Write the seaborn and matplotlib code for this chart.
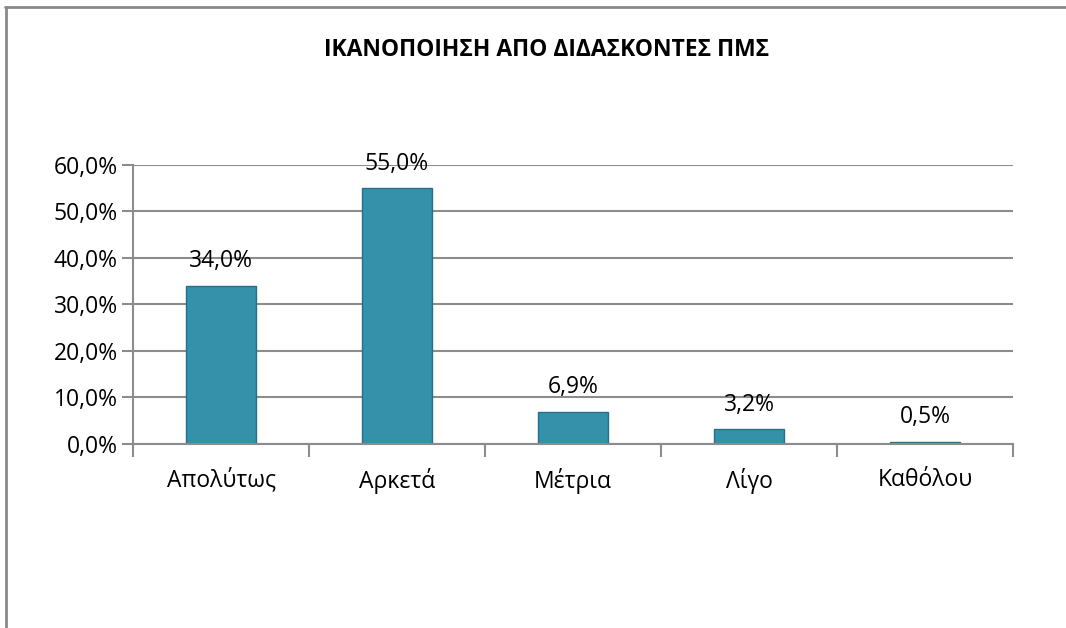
import matplotlib.pyplot as plt
import seaborn as sns
from matplotlib.lines import Line2D
from matplotlib.ticker import FixedLocator, FuncFormatter

# Satisfaction with PMS teaching staff (%)
categories = ["Απολύτως", "Αρκετά", "Μέτρια", "Λίγο", "Καθόλου"]
values = [34.0, 55.0, 6.9, 3.2, 0.5]
y_ticks = [0, 10, 20, 30, 40, 50, 60]
title = "ΙΚΑΝΟΠΟΙΗΣΗ ΑΠΟ ΔΙΔΑΣΚΟΝΤΕΣ ΠΜΣ"

GRID = "#8c8c8c"
BAR = "#3590aa"
FS = 16.5


def pct(v):
    return f"{v:.1f}%".replace(".", ",")


sns.set_theme(style="white")
plt.rcParams["font.family"] = ["Open Sans", "DejaVu Sans"]
plt.rcParams["text.color"] = "black"

fig = plt.figure(figsize=(10.66, 6.28), dpi=100)
ax = fig.add_axes([0.1248, 0.2930, 0.8255, 0.4443])

sns.barplot(x=categories, y=values, color=BAR, width=0.4,
            edgecolor="#2a6f85", linewidth=1, saturation=1, ax=ax)

ax.set_ylim(0, 60)
ax.set_xlim(-0.5, len(categories) - 0.5)
ax.yaxis.set_major_locator(FixedLocator(y_ticks))
ax.yaxis.set_major_formatter(FuncFormatter(lambda v, _: pct(v)))
ax.grid(axis="y", color=GRID, linewidth=1.5)
ax.set_axisbelow(True)

ax.xaxis.set_minor_locator(FixedLocator([i - 0.5 for i in range(len(categories) + 1)]))
ax.tick_params(axis="x", which="major", length=0, pad=17, labelsize=FS, colors="black")
ax.tick_params(axis="x", which="minor", length=9, width=1.5, color=GRID, bottom=True)
ax.tick_params(axis="y", length=8, width=1.5, color=GRID, left=True, labelsize=FS,
               colors="black", pad=3)

for side in ["top", "right"]:
    ax.spines[side].set_visible(False)
for side in ["left", "bottom"]:
    ax.spines[side].set_color(GRID)
    ax.spines[side].set_linewidth(1.5)

ax.bar_label(ax.containers[0], labels=[pct(v) for v in values], padding=9,
             fontsize=FS, color="black")
ax.set_xlabel("")
ax.set_ylabel("")

fig.text(0.513, 0.92, title, ha="center", va="center", fontsize=16.5,
         fontweight="bold", color="black")

# outer chart frame (top and left edges visible)
fig.add_artist(Line2D([0.005, 1.0], [0.9889, 0.9889], color="#8a8a8a", linewidth=2))
fig.add_artist(Line2D([0.0058, 0.0058], [0.0, 0.9889], color="#8a8a8a", linewidth=2))

fig.savefig("out.png", dpi=100)
